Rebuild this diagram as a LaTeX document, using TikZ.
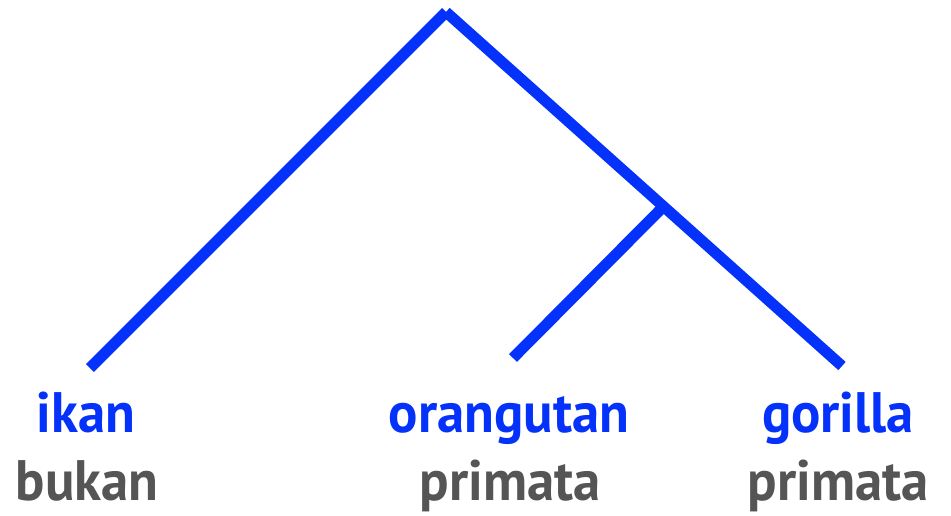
\documentclass[tikz,border=0pt]{standalone}
\usepackage{fontspec}
\setmainfont{PT Sans}
\definecolor{treeblue}{RGB}{5,50,250}
\definecolor{labgray}{RGB}{85,85,85}
\newcommand{\narrowtxt}[1]{\scalebox{0.96}[1]{#1}}
\begin{document}
\begin{tikzpicture}[x=1pt,y=-1pt,
  branch/.style={draw=treeblue,line width=11pt,line cap=butt},
  sp/.style={anchor=base,inner sep=0pt,text=treeblue,font=\bfseries\fontsize{57}{57}\selectfont},
  cl/.style={anchor=base,inner sep=0pt,text=labgray,font=\bfseries\fontsize{57}{57}\selectfont}]
\useasboundingbox (0,0) rectangle (951,515);
\coordinate (root) at (446,12);
\coordinate (inner) at (660,210);
\coordinate (l1) at (90,368);
\coordinate (l2) at (513,358);
\coordinate (l3) at (842,366);
\draw[branch] (root) -- (l1);
\draw[branch] (root) -- (l3);
\draw[branch] (inner) -- (l2);
\node[sp] (n1) at (86,432) {\narrowtxt{ikan}};
\node[sp] (n2) at (509,432) {\narrowtxt{orangutan}};
\node[sp] (n3) at (838,432) {\narrowtxt{gorilla}};
\node[cl] (c1) at (87,500) {\narrowtxt{bukan}};
\node[cl] (c2) at (510,500) {\narrowtxt{primata}};
\node[cl] (c3) at (838,500) {\narrowtxt{primata}};
\end{tikzpicture}
\end{document}
